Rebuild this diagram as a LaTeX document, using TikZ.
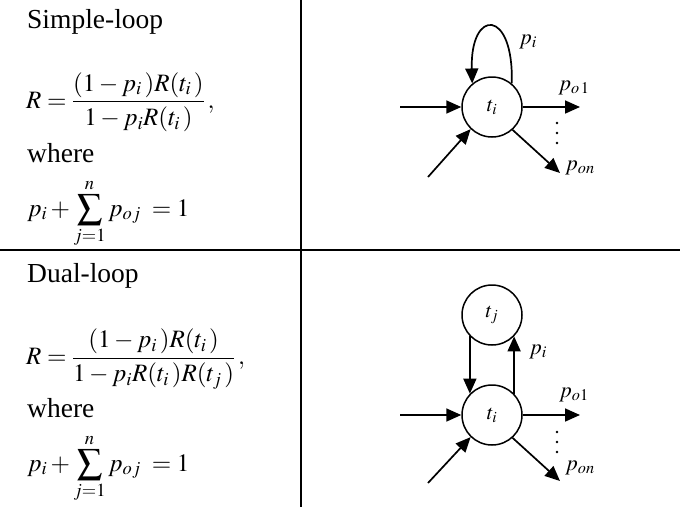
\documentclass[tikz,border=0pt]{standalone}
\usepackage{mathptmx}
\usepackage[no-math]{fontspec}
\setmainfont{Liberation Serif}
\usetikzlibrary{arrows.meta}
\begin{document}
\begin{tikzpicture}[x=1pt,y=-1pt,
  state/.style={circle,draw,line width=1.5pt,minimum size=60pt,inner sep=0pt,font=\fontsize{21}{24}\selectfont},
  arr/.style={line width=1.7pt,-{Triangle[length=15pt,width=13pt]}},
  lbl/.style={font=\fontsize{22}{24}\selectfont,inner sep=0pt},
  txt/.style={anchor=base west,inner sep=0pt,font=\fontsize{27.5}{30}\selectfont},
  eq/.style={anchor=west,inner sep=0pt,font=\fontsize{25}{29}\selectfont},
  eqb/.style={anchor=base west,inner sep=0pt,font=\fontsize{25}{29}\selectfont},
  dotmark/.style={circle,fill,inner sep=0pt,minimum size=2.6pt},
  rule/.style={line width=1.4pt}]
\useasboundingbox (0,0) rectangle (691,507);
\draw[rule] (0,250) -- (680,250);
\draw[rule] (301,0) -- (301,507);
% left column, top
\node[txt] (h1) at (27,28) {Simple-loop};
\node[eq] (e1) at (26,102) {$\displaystyle R=\frac{(1-p_i\,)R(t_i\,)}{1-p_iR(t_i\,)}\,,$};
\node[txt] (w1) at (27,162) {where};
\node[eqb] (s1) at (27,216) {$\displaystyle p_i+\sum_{j=1}^{n}p_{oj}\;=1$};
% left column, bottom
\node[txt] (h2) at (27,282) {Dual-loop};
\node[eq] (e2) at (26,359) {$\displaystyle R=\frac{(1-p_i\,)R(t_i\,)}{1-p_iR(t_i\,)R(t_j\,)}\,,$};
\node[txt] (w2) at (27,417) {where};
\node[eqb] (s2) at (27,471) {$\displaystyle p_i+\sum_{j=1}^{n}p_{oj}\;=1$};
% right, top diagram
\node[state] (ti1) at (492,107) {$t_i$};
\coordinate (in1a) at (400,107);
\coordinate (in1b) at (428,177);
\coordinate (out1a) at (580,107);
\coordinate (out1b) at (560,173);
\draw[arr] (in1a) -- (ti1.west);
\draw[arr] (in1b) -- (ti1.226);
\draw[arr] (ti1.east) -- (out1a);
\draw[arr] (ti1.312) -- (out1b);
\draw[arr] (ti1.50) .. controls (514,8) and (470,8) .. (ti1.130);
\node[lbl] (pi1) at (528,42) {$p_i$};
\node[lbl] (po11) at (574,88) {$p_{o\,1}$};
\node[lbl] (pon1) at (580,168) {$p_{on}$};
\node[dotmark] (d1a) at (557,123) {};
\node[dotmark] (d1b) at (557,133) {};
\node[dotmark] (d1c) at (557,143) {};
% right, bottom diagram
\node[state] (tj2) at (492,315) {$t_j$};
\node[state] (ti2) at (492,415) {$t_i$};
\coordinate (in2a) at (400,415);
\coordinate (in2b) at (428,483);
\coordinate (out2a) at (580,415);
\coordinate (out2b) at (560,481);
\draw[arr] (in2a) -- (ti2.west);
\draw[arr] (in2b) -- (ti2.226);
\draw[arr] (ti2.east) -- (out2a);
\draw[arr] (ti2.312) -- (out2b);
\draw[arr] (tj2.224) -- (ti2.136);
\draw[arr] (ti2.44) -- (tj2.316);
\node[lbl] (pi2) at (538,352) {$p_i$};
\node[lbl] (po12) at (574,395) {$p_{o1}$};
\node[lbl] (pon2) at (580,468) {$p_{on}$};
\node[dotmark] (d2a) at (557,432) {};
\node[dotmark] (d2b) at (557,442) {};
\node[dotmark] (d2c) at (557,452) {};
\end{tikzpicture}
\end{document}
